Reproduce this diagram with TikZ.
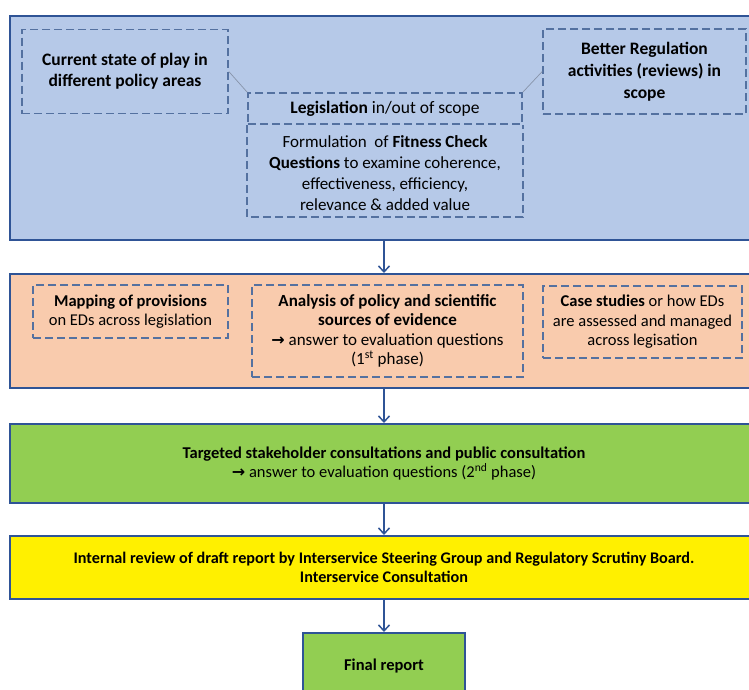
\documentclass[tikz,border=0pt]{standalone}
\usepackage{fontspec}
\setmainfont{Carlito}
\newfontfamily\arrowfont{DejaVu Sans}
\usepackage{tikz}
\usetikzlibrary{shapes,arrows.meta,positioning}
\usepackage{xcolor}
\definecolor{scopecol}{RGB}{182,201,232}
\definecolor{workcol}{RGB}{249,203,173}
\definecolor{consultcol}{RGB}{146,206,82}
\definecolor{reviewcol}{RGB}{255,240,0}
\definecolor{framecol}{RGB}{47,84,150}
\definecolor{dashcol}{RGB}{84,113,160}
\definecolor{linkcol}{RGB}{135,148,170}
\newcommand{\toarrow}{{\arrowfont\bfseries\fontsize{16}{16}\selectfont →}}

\begin{document}
\begin{tikzpicture}[x=1pt,y=-1pt,
  layer/.style={draw=framecol, line width=2pt, minimum width=748pt, inner sep=0pt,
    align=center, font=\fontsize{16.5}{19}\selectfont},
  dashbox/.style={draw=dashcol, line width=1.6pt, dash pattern=on 8pt off 4pt,
    inner sep=0pt, align=center, font=\fontsize{17.5}{21}\selectfont},
  dashline/.style={draw=dashcol, line width=1.6pt, dash pattern=on 8pt off 4pt},
  link/.style={draw=linkcol, line width=0.7pt},
  flow/.style={draw=framecol, line width=1.5pt, -{Straight Barb[length=6pt,width=11pt]}}]
\useasboundingbox (0,0) rectangle (749,689);
\clip (0,0) rectangle (749,689);

% Scope of the fitness check
\node[layer, fill=scopecol, minimum height=224pt] (scope) at (384,128) {};
\node[dashbox, minimum width=206pt, minimum height=84pt] (current) at (125,71.5)
  {\textbf{Current state of play in}\\ \textbf{different policy areas}};
\node[dashbox, minimum width=203pt, minimum height=85pt, font=\fontsize{17.5}{22}\selectfont] (better) at (644.5,71.5)
  {\textbf{Better Regulation}\\ \textbf{activities (reviews) in}\\ \textbf{scope}};
\node[dashbox, minimum width=274pt, minimum height=31pt] (legtitle) at (385,108.5)
  {\textbf{Legislation} in/out of scope};
\node[inner sep=0pt, align=center, minimum width=274pt, minimum height=93pt, font=\fontsize{17}{21}\selectfont] (legbody) at (385,173.5)
  {Formulation\ \ of \textbf{Fitness Check}\\ \textbf{Questions} to examine coherence,\\ effectiveness, efficiency,\\ relevance \& added value};
\draw[dashline] (legtitle.south west) -- (legtitle.south west |- 0,217)
  -- (legtitle.south east |- 0,217) -- (legtitle.south east);
\draw[link] (current.east) -- (legtitle.north west);
\draw[link] (legtitle.north east) -- (better.west);

% Evidence gathering
\node[layer, fill=workcol, minimum height=114pt] (work) at (384,331) {};
\node[dashbox, minimum width=195pt, minimum height=53pt, font=\fontsize{16.5}{19.5}\selectfont] (mapping) at (130.5,311.5)
  {\textbf{Mapping of provisions}\\ on EDs across legislation};
\node[dashbox, minimum width=271pt, minimum height=92pt, font=\fontsize{17}{19.5}\selectfont] (analysis) at (387.5,331)
  {\textbf{Analysis of policy and scientific}\\ \textbf{sources of evidence}\\ \toarrow\ answer to evaluation questions\\ (1\textsuperscript{st} phase)};
\node[dashbox, minimum width=199pt, minimum height=72pt, font=\fontsize{16.5}{19.5}\selectfont] (cases) at (642.5,322)
  {\textbf{Case studies} or how EDs\\ are assessed and managed\\ across legisation};

% Consultation
\node[layer, fill=consultcol, minimum height=79pt] (consult) at (384,463.5)
  {\textbf{Targeted stakeholder consultations and public consultation}\\ \toarrow\ answer to evaluation questions (2\textsuperscript{nd} phase)};

% Review
\node[layer, fill=reviewcol, minimum height=63pt, font=\fontsize{16.2}{19}\selectfont] (review) at (384,567.5)
  {\textbf{Internal review of draft report by Interservice Steering Group and Regulatory Scrutiny Board.}\\ \textbf{Interservice Consultation}};

% Final report
\node[layer, fill=consultcol, minimum width=162pt, minimum height=66pt] (final) at (384,666)
  {\textbf{Final report}};

\draw[flow] (scope) -- (work);
\draw[flow] (work) -- (consult);
\draw[flow] (consult) -- (review);
\draw[flow] (review) -- (final);
\end{tikzpicture}
\end{document}
